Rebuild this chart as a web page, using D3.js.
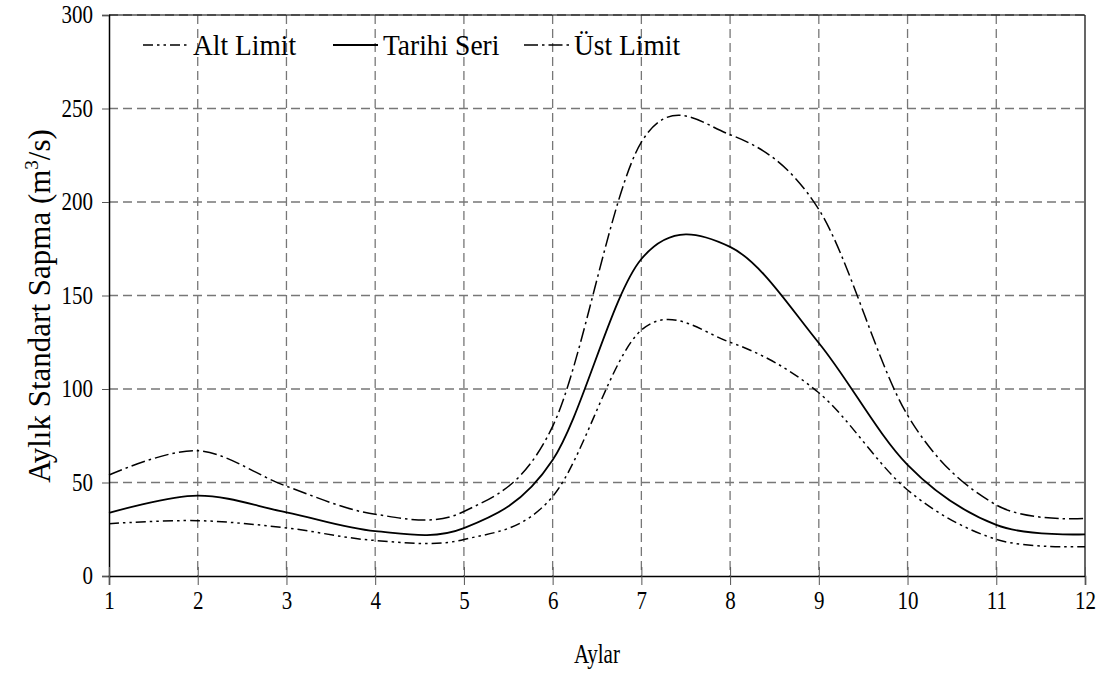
<!DOCTYPE html>
<html><head><meta charset="utf-8">
<script src="https://cdn.jsdelivr.net/npm/d3@7"></script>
<style>body{margin:0;background:#fff}svg{display:block}text{font-family:"Liberation Serif","Times New Roman",serif;fill:#000}</style>
</head><body><svg id="c" width="1110" height="681"></svg>
<script>
const months = [1,2,3,4,5,6,7,8,9,10,11,12];
const altLimit = [28,29.6,25.7,19,19.5,42.5,131.5,125,98,46,19.6,15.7];
const tarihiSeri = [33.7,43,34,24,25.6,62,169.5,176,124.6,59.4,27.3,22.3];
const ustLimit = [54,67,48,33,34.5,80,232,236,196,86,38,30.8];
const yTicks = [0,50,100,150,200,250,300];
const xTicks = [1,2,3,4,5,6,7,8,9,10,11,12];
const seriesNames = ["Alt Limit","Tarihi Seri","Üst Limit"];

const svg = d3.select("#c");
const L=109,R=1085,T=15,B=576;
const SY = 1.2; // vertical stretch of glyphs in reference
const x = d3.scaleLinear().domain([1,12]).range([L,R]);
const y = d3.scaleLinear().domain([0,300]).range([B,T]);

// grid
const g = svg.append("g");
g.selectAll("line.h").data(yTicks.filter(d=>d>0)).join("line")
 .attr("x1",L).attr("x2",R).attr("y1",d=>y(d)).attr("y2",d=>y(d))
 .attr("stroke","#777").attr("stroke-width",1.3).attr("stroke-dasharray","9,5");
g.selectAll("line.v").data(xTicks.filter(d=>d>1&&d<12)).join("line")
 .attr("y1",T).attr("y2",B).attr("x1",d=>x(d)).attr("x2",d=>x(d))
 .attr("stroke","#777").attr("stroke-width",1.3).attr("stroke-dasharray","9,5");

// frame top/right
svg.append("line").attr("x1",L).attr("x2",R).attr("y1",T).attr("y2",T).attr("stroke","#000").attr("stroke-width",1.2);
svg.append("line").attr("x1",R).attr("x2",R).attr("y1",T).attr("y2",B).attr("stroke","#000").attr("stroke-width",1.2);

// axes
const yAxis = d3.axisLeft(y).tickValues(yTicks).tickSize(7);
const ya = svg.append("g").attr("transform",`translate(${L},0)`).call(yAxis);
ya.select(".domain").attr("stroke","#000").attr("stroke-width",1.5);
ya.selectAll(".tick line").attr("stroke","#555");
ya.selectAll(".tick text").attr("font-size",21).attr("font-family","Liberation Serif")
  .attr("x",null).attr("dy",null).attr("y",0)
  .attr("transform",`translate(-16,7.5) scale(1,${SY})`);

const xAxis = d3.axisBottom(x).tickValues(xTicks).tickSize(9);
const xa = svg.append("g").attr("transform",`translate(0,${B})`).call(xAxis);
xa.select(".domain").attr("stroke","#000").attr("stroke-width",1.5);
xa.selectAll(".tick line").attr("y1",-9).attr("stroke","#555");
xa.selectAll(".tick text").attr("font-size",21).attr("font-family","Liberation Serif")
  .attr("dy",null).attr("y",0)
  .attr("transform",`translate(0,33) scale(1,${SY})`);

// lines
const line = d3.line().x((d,i)=>x(months[i])).y(d=>y(d)).curve(d3.curveCardinal.tension(0));
const styles = [
 {data:altLimit, dash:"10,4,2.5,4,2.5,4", w:1.5},
 {data:tarihiSeri, dash:null, w:1.8},
 {data:ustLimit, dash:"14,4,2.5,4", w:1.5}
];
styles.forEach(s=>{
 svg.append("path").datum(s.data).attr("d",line).attr("fill","none")
  .attr("stroke","#000").attr("stroke-width",s.w).attr("stroke-dasharray",s.dash);
});

// legend
const legX = [143,333,524];
seriesNames.forEach((n,i)=>{
 svg.append("line").attr("x1",legX[i]).attr("x2",legX[i]+45).attr("y1",45).attr("y2",45)
  .attr("stroke","#000").attr("stroke-width",styles[i].w).attr("stroke-dasharray",styles[i].dash);
 svg.append("text").attr("transform",`translate(${legX[i]+50},55) scale(1,1.1)`).attr("font-size",27.5).text(n);
});

// axis titles
svg.append("text").attr("transform",`translate(${(L+R)/2},663) scale(1,1.25)`).attr("text-anchor","middle").attr("font-size",21).text("Aylar");
const yt = svg.append("text").attr("transform",`translate(50,306) rotate(-90)`).attr("text-anchor","middle").attr("font-size",31);
yt.append("tspan").text("Aylık Standart Sapma (m");
yt.append("tspan").attr("font-size",19).attr("dy",-12).text("3");
yt.append("tspan").attr("dy",12).text("/s)");
</script></body></html>
